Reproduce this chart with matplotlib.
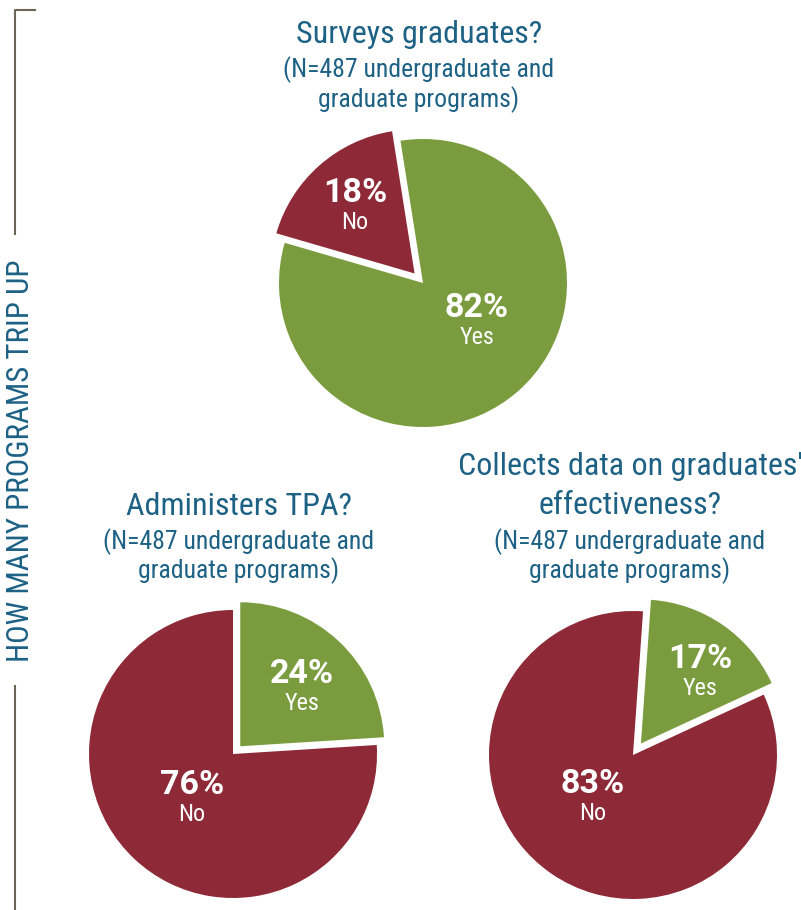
import matplotlib
matplotlib.use("Agg")
from matplotlib import pyplot as plt

RED = "#8e2a37"
GREEN = "#7a9c3e"
BLUE = "#1d6185"
GRAY = "#6b6658"
FONT = ["Roboto Condensed", "Roboto", "DejaVu Sans"]
BOLD_FONT = ["Roboto", "DejaVu Sans"]

# three yes/no questions
questions = [["Surveys graduates?"], ["Administers TPA?"],
             ["Collects data on graduates'", "effectiveness?"]]
subtitle = ["(N=487 undergraduate and", "graduate programs)"]
yes_pct = [82, 24, 17]
no_pct = [18, 76, 83]
side_title = "HOW MANY PROGRAMS TRIP UP"

W, H = 801, 910
fig = plt.figure(figsize=(W / 100, H / 100), dpi=100)
ax = fig.add_axes([0, 0, 1, 1])


def py(y):
    # pixel rows counted from the top
    return H - y


def draw_pie(cx, cy, values, colors, labels, start, ccw, explode_idx, shift, label_pos):
    explode = [0, 0]
    explode[explode_idx] = shift  # pie explode is in data units here
    ax.pie(values, colors=colors, startangle=start, counterclock=ccw,
           center=(cx, py(cy)), radius=144, explode=explode,
           wedgeprops=dict(linewidth=0), frame=True)
    for (lx, base), v, lab in zip(label_pos, values, labels):
        ax.text(lx, py(base), f"{v}%", color="white", fontsize=24.5, fontweight="bold",
                ha="center", va="baseline", family=BOLD_FONT)
        ax.text(lx, py(base + 27), lab, color="white", fontsize=17.5,
                ha="center", va="baseline", family=FONT)


def draw_title(cx, lines, baselines):
    for line, base in zip(lines, baselines):
        size = 23 if line not in subtitle else 18.5
        ax.text(cx, py(base), line, color=BLUE, fontsize=size,
                ha="center", va="baseline", family=FONT)


# top: surveys graduates
draw_pie(423, 283, [no_pct[0], yes_pct[0]], [RED, GREEN], ["No", "Yes"],
         99, True, 0, 12.7, [(355, 202), (477, 317)])
# bottom left: TPA
draw_pie(233, 754, [yes_pct[1], no_pct[1]], [GREEN, RED], ["Yes", "No"],
         90, False, 0, 10.6, [(302, 683), (192, 794)])
# bottom right: effectiveness data
draw_pie(633, 755, [yes_pct[2], no_pct[2]], [GREEN, RED], ["Yes", "No"],
         86, False, 0, 14, [(700, 668), (593, 793)])

ax.set_xlim(0, W)
ax.set_ylim(0, H)
ax.set_aspect("equal")
ax.axis("off")

# titles
draw_title(419, questions[0] + subtitle, [43, 77, 107])
draw_title(239, questions[1] + subtitle, [515, 549, 578])
draw_title(630, questions[2] + subtitle, [475, 514, 549, 578])

# side label with bracket line
ax.text(21, py(461), side_title, color=BLUE, fontsize=22.3, rotation=90,
        ha="center", va="center", family=FONT)
ax.plot([35, 15, 15], [py(10), py(10), py(234)], color=GRAY, lw=1.5)
ax.plot([15, 15], [py(686), py(910)], color=GRAY, lw=1.5)

fig.savefig("out.png", dpi=100)
